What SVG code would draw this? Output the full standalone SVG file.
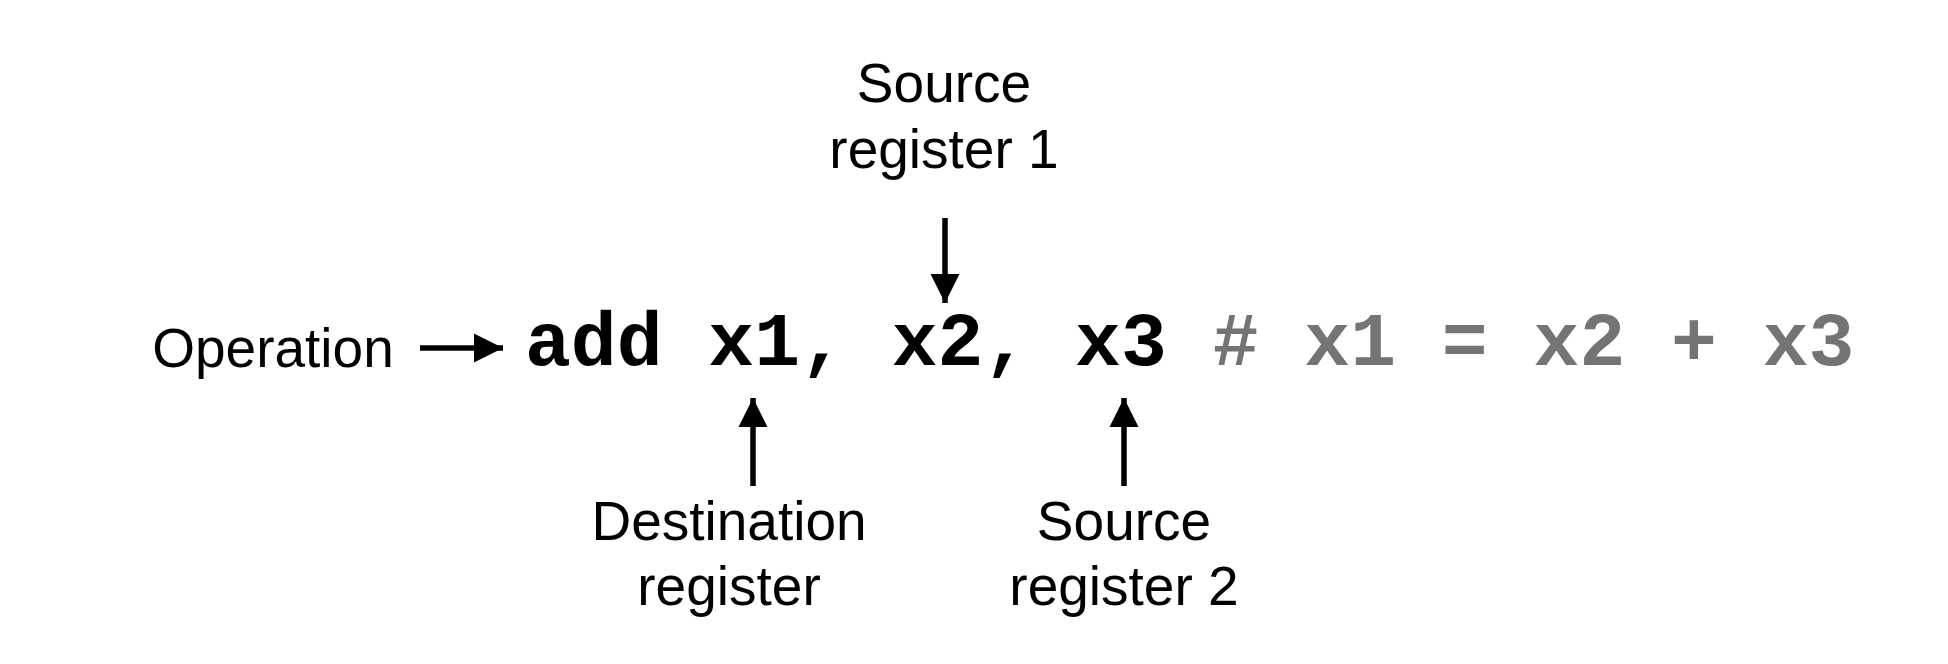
<svg xmlns="http://www.w3.org/2000/svg" width="1948" height="664" viewBox="0 0 1948 664">
<defs>
<style>
.lbl{font-family:"Liberation Sans",Arial,sans-serif;font-size:55px;fill:#000;text-anchor:middle}
.code{font-family:"Liberation Mono","Courier New",monospace;font-size:76.4px;font-weight:bold;fill:#000}
.cmt{fill:#747474}
.conn{stroke:#000;stroke-width:5.5;fill:none}
</style>
<marker id="ah" viewBox="0 0 10 10" refX="10" refY="5" markerUnits="userSpaceOnUse" markerWidth="29" markerHeight="30" orient="auto">
<path d="M0,0 L10,5 L0,10 Z" fill="#000"/>
</marker>
</defs>
<rect width="1948" height="664" fill="#fff"/>
<g id="code">
<text class="code" x="525" y="365" xml:space="preserve">add x1, x2, x3 <tspan class="cmt"># x1 = x2 + x3</tspan></text>
</g>
<g id="operation">
<text class="lbl" x="273" y="367">Operation</text>
</g>
<g id="source1">
<text class="lbl" x="944" y="102">Source</text>
<text class="lbl" x="944" y="168">register 1</text>
</g>
<g id="destination">
<text class="lbl" x="729" y="540">Destination</text>
<text class="lbl" x="729" y="605">register</text>
</g>
<g id="source2">
<text class="lbl" x="1124" y="540">Source</text>
<text class="lbl" x="1124" y="605">register 2</text>
</g>
<g id="connectors">
<line class="conn" x1="420" y1="348" x2="503" y2="348" marker-end="url(#ah)"/>
<line class="conn" x1="945" y1="218" x2="945" y2="303" marker-end="url(#ah)"/>
<line class="conn" x1="753" y1="486" x2="753" y2="398" marker-end="url(#ah)"/>
<line class="conn" x1="1124" y1="486" x2="1124" y2="398" marker-end="url(#ah)"/>
</g>
</svg>
